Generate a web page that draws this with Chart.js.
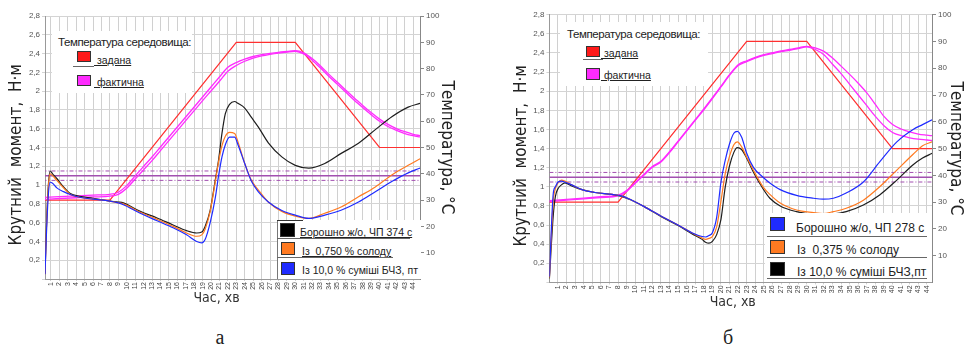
<!DOCTYPE html>
<html>
<head>
<meta charset="utf-8">
<script src="https://cdn.jsdelivr.net/npm/chart.js@4.4.1/dist/chart.umd.min.js"></script>
<style>
  body { margin: 0; background: #fff; }
  #wrap { position: relative; width: 966px; height: 349px; overflow: hidden; font-family: "Liberation Sans", Arial, sans-serif; color: #222; }
  canvas { position: absolute; top: 0; }
  .box { position: absolute; background: #fff; }
  .sq { position: absolute; box-sizing: border-box; border: 1px solid #333; }
  .t { position: absolute; white-space: nowrap; text-decoration: underline; line-height: 12px; }
  .nu { text-decoration: none; }
  .ln { position: absolute; height: 1px; background: #666; }
  .lbl { position: absolute; width: 40px; text-align: center; font: 20px "Liberation Serif", serif; }
</style>
</head>
<body>
<div id="wrap">
  <canvas id="chartA" width="483" height="320" style="left:0"></canvas>
  <canvas id="chartB" width="483" height="320" style="left:483px"></canvas>

  <!-- а: temperature legend -->
  <div class="box" style="left:52px;top:31px;width:140px;height:62px"></div>
  <div class="t nu" style="left:58px;top:36px;font-size:11.5px;letter-spacing:-0.4px">Температура середовища:</div>
  <div class="sq" style="left:77px;top:51px;width:14px;height:11px;background:#ff1a1a"></div>
  <div class="ln" style="left:73px;top:66px;width:21px"></div>
  <div class="t" style="left:94px;top:54px;font-size:10.5px">&nbsp;задана</div>
  <div class="sq" style="left:77px;top:75px;width:14px;height:11px;background:#ff2bff"></div>
  <div class="t" style="left:94px;top:76px;font-size:10.5px">&nbsp;фактична</div>

  <!-- а: samples legend -->
  <div class="box" style="left:277px;top:220px;width:143px;height:59px;border-left:1px solid #777"></div>
  <div class="ln" style="left:277px;top:220px;width:26px;background:#333"></div>
  <div class="sq" style="left:280px;top:223px;width:15px;height:14px;background:#000"></div>
  <div class="t" style="left:300px;top:226px;font-size:10.5px">Борошно ж/о, ЧП 374 с</div>
  <div class="ln" style="left:277px;top:238px;width:133px"></div>
  <div class="sq" style="left:281px;top:242px;width:14px;height:13px;background:#ff7a21"></div>
  <div class="t" style="left:302px;top:245px;font-size:10.5px">Із&nbsp; 0,750 % солоду</div>
  <div class="ln" style="left:277px;top:257px;width:116px"></div>
  <div class="sq" style="left:281px;top:262px;width:14px;height:13px;background:#1f2bff"></div>
  <div class="t nu" style="left:302px;top:264px;font-size:10.5px">Із 10,0 % суміші БЧЗ, пт</div>

  <!-- б: temperature legend -->
  <div class="box" style="left:560px;top:22px;width:148px;height:64px"></div>
  <div class="t nu" style="left:567px;top:28px;font-size:11.5px;letter-spacing:-0.4px">Температура середовища:</div>
  <div class="sq" style="left:586px;top:46px;width:14px;height:11px;background:#ff1a1a"></div>
  <div class="ln" style="left:583px;top:59px;width:20px"></div>
  <div class="t" style="left:601px;top:47px;font-size:10.5px">&nbsp;задана</div>
  <div class="sq" style="left:586px;top:68px;width:14px;height:12px;background:#ff2bff"></div>
  <div class="t" style="left:601px;top:69px;font-size:10.5px">&nbsp;фактична</div>

  <!-- б: samples legend -->
  <div class="box" style="left:765px;top:213px;width:167px;height:69px"></div>
  <div class="sq" style="left:770px;top:217px;width:15px;height:14px;background:#1f2bff"></div>
  <div class="t nu" style="left:796px;top:222px;font-size:12px">Борошно ж/о, ЧП 278 с</div>
  <div class="ln" style="left:767px;top:236px;width:160px"></div>
  <div class="sq" style="left:770px;top:240px;width:15px;height:14px;background:#ff7a21"></div>
  <div class="t nu" style="left:797px;top:244px;font-size:12px">Із&nbsp; 0,375 % солоду</div>
  <div class="ln" style="left:767px;top:257px;width:160px"></div>
  <div class="sq" style="left:770px;top:262px;width:15px;height:14px;background:#000"></div>
  <div class="t nu" style="left:797px;top:266px;font-size:12px">Із 10,0 % суміші БЧЗ,пт</div>
  <div class="ln" style="left:767px;top:278px;width:160px"></div>

  <div class="lbl" style="left:200px;top:326px">а</div>
  <div class="lbl" style="left:708px;top:326px">б</div>
</div>

<script>
// axis ticks
const MINUTES = Array.from({ length: 44 }, (_, i) => i + 1);
const TORQUE_GRID = Array.from({ length: 29 }, (_, i) => i / 10);
const TEMP_TICKS = [10, 20, 30, 40, 50, 60, 70, 80, 90, 100];

// set temperature programme (°C)
const SET_TIME = [0, 8, 23, 30, 40, 45];
const SET_TEMP = [30, 30, 90, 90, 50, 50];

// C1 target band, N·m
const BAND_LOW = 1.05;
const BAND_MID = 1.10;
const BAND_HIGH = 1.15;

// --- chart а ---
const A_TIME = [0.3, 0.5, 0.7, 0.9, 1.2, 1.7, 2.5, 3.3, 4.4, 6, 8, 9, 9.6, 11.6, 13.6, 15.5, 17.1, 18.3, 18.9, 19.3,
  19.9, 20.5, 20.9, 21.3, 21.7, 22.2, 22.8, 23.2, 24, 24.8, 25.6, 26.8, 28.4, 30, 31.6, 33.5, 35.5, 37.5, 39.5, 41.5, 43.4, 44.8];
const A_CONTROL = [0.06, 0.63, 1.0, 1.15, 1.12, 1.07, 0.98, 0.91, 0.88, 0.86, 0.83, 0.82, 0.81, 0.72, 0.65, 0.575, 0.515, 0.49, 0.5, 0.56,
  0.73, 1.05, 1.27, 1.55, 1.76, 1.86, 1.89, 1.87, 1.82, 1.72, 1.62, 1.45, 1.30, 1.21, 1.18, 1.23, 1.34, 1.445, 1.59, 1.73, 1.83, 1.87];
const A_MALT = [0.05, 0.6, 0.98, 1.12, 1.1, 1.05, 0.97, 0.9, 0.87, 0.85, 0.83, 0.81, 0.80, 0.71, 0.635, 0.56, 0.49, 0.455, 0.47, 0.53,
  0.72, 1.03, 1.25, 1.42, 1.52, 1.56, 1.55, 1.46, 1.23, 1.05, 0.95, 0.82, 0.72, 0.67, 0.645, 0.70, 0.77, 0.875, 0.98, 1.11, 1.21, 1.28];
const A_MIX = [0.05, 0.55, 0.9, 1.03, 1.02, 0.97, 0.93, 0.9, 0.87, 0.85, 0.83, 0.81, 0.79, 0.70, 0.62, 0.545, 0.47, 0.40, 0.385, 0.42,
  0.6, 0.86, 1.1, 1.3, 1.43, 1.51, 1.51, 1.43, 1.23, 1.04, 0.93, 0.82, 0.73, 0.68, 0.645, 0.68, 0.735, 0.82, 0.93, 1.04, 1.13, 1.18];
const A_TEMP_TIME = [0.3, 2, 4, 6, 8, 9, 10, 11, 12, 13, 14, 15, 16, 17, 18, 19, 20, 21, 22, 23, 24, 25, 26, 27, 28, 29, 30,
  31, 32, 33, 34, 35, 36, 37, 38, 39, 40, 41, 42, 43, 44, 44.8];
const A_TEMP_1 = [30.3, 30.6, 30.9, 31.2, 31.5, 32.2, 34.5, 38, 41.5, 45, 48.8, 52.6, 56.4, 60.2, 64, 67.8, 71.5, 75.2, 79, 81.2, 82.8,
  84, 84.8, 85.4, 85.9, 86.3, 86.6, 85.6, 83.2, 80.2, 77, 74, 71, 68, 65.2, 62.5, 60, 58, 56.5, 55.3, 54.5, 54];
const A_TEMP_2 = [31.0, 31.3, 31.6, 31.9, 32.2, 33, 35.5, 39.2, 42.8, 46.4, 50.2, 54, 57.8, 61.6, 65.4, 69.2, 73, 76.8, 80.5, 82.3, 83.6,
  84.6, 85.3, 85.8, 86.2, 86.5, 86.8, 86, 83.8, 81, 77.8, 74.8, 71.8, 68.8, 66, 63.3, 60.8, 58.8, 57.2, 56, 55, 54.5];

// --- chart б ---
const B_TIME = [0, 0.45, 0.7, 1.0, 1.4, 1.8, 2.6, 3.8, 5.3, 7.3, 8.4, 9.6, 11.1, 13.1, 15, 16.6, 17.8, 18.2, 18.6, 19,
  19.5, 20, 20.5, 21, 21.5, 21.9, 22.4, 23, 23.8, 24.9, 25.7, 26.9, 28.8, 30.8, 31.9, 33.1, 34.6, 36.6, 38.5, 40.5, 42.4, 43.5, 44.6];
const B_CONTROL = [0.06, 0.93, 1.0, 1.05, 1.06, 1.05, 1.02, 0.97, 0.94, 0.92, 0.905, 0.86, 0.79, 0.69, 0.60, 0.52, 0.48, 0.475, 0.49, 0.52,
  0.68, 1.05, 1.28, 1.45, 1.56, 1.58, 1.52, 1.35, 1.2, 1.1, 1.04, 0.97, 0.91, 0.88, 0.87, 0.88, 0.935, 1.05, 1.26, 1.47, 1.6, 1.65, 1.70];
const B_MALT = [0.05, 0.85, 0.98, 1.04, 1.07, 1.06, 1.02, 0.97, 0.94, 0.92, 0.905, 0.86, 0.79, 0.69, 0.60, 0.52, 0.465, 0.45, 0.46, 0.48,
  0.58, 0.85, 1.14, 1.32, 1.44, 1.47, 1.42, 1.31, 1.17, 1.0, 0.92, 0.83, 0.757, 0.73, 0.72, 0.74, 0.775, 0.86, 1.0, 1.175, 1.34, 1.43, 1.47];
const B_MIX = [0.04, 0.7, 0.9, 0.98, 1.02, 1.04, 1.01, 0.97, 0.94, 0.92, 0.90, 0.86, 0.79, 0.685, 0.595, 0.51, 0.45, 0.42, 0.41, 0.43,
  0.5, 0.66, 1.0, 1.22, 1.36, 1.41, 1.39, 1.3, 1.15, 0.98, 0.88, 0.80, 0.74, 0.71, 0.705, 0.715, 0.74, 0.81, 0.915, 1.07, 1.23, 1.3, 1.35];
const B_TEMP_TIME = [0, 2, 4, 6, 8, 9, 10, 11, 12, 13, 14, 15, 16, 17, 18, 19, 20, 21, 22, 23, 24, 25, 26, 27, 28, 29, 30,
  31, 32, 33, 34, 35, 36, 37, 38, 39, 40, 41, 42, 43, 44, 44.6];
const B_TEMP_1 = [30.2, 30.7, 31.2, 31.7, 32.3, 34, 37, 40, 43, 45, 48.5, 52.5, 56.5, 60.5, 64.5, 68.7, 73, 77.3, 81, 82.5, 83.8,
  84.8, 85.5, 86.2, 86.7, 87.3, 88, 87, 85, 81.5, 78, 74, 70, 66, 62, 58.5, 56, 54.8, 54, 53.5, 53.2, 53];
const B_TEMP_2 = [30.5, 31, 31.5, 32, 32.6, 34.3, 37.3, 40.3, 43.3, 45.3, 48.8, 52.8, 56.8, 60.8, 64.8, 69, 73.3, 77.6, 81.3, 82.8, 84.1,
  85.1, 85.8, 86.5, 87, 87.6, 88.2, 87.6, 86.3, 83.8, 80.8, 77.7, 74.4, 70.8, 66.5, 62, 59, 57.3, 56.2, 55.4, 55, 54.8];

const BLACK = '#1e1e1e', ORANGE = '#ff7a21', BLUE = '#1f2bff', RED = '#ff3030', MAGENTA = '#ff2bff', PURPLE = '#a24fb0';
const NARROW = "'Liberation Sans Narrow', 'DejaVu Sans Condensed', sans-serif";
const NBSP = '\u00a0';

const pts = (xs, ys) => xs.map((x, i) => ({ x, y: ys[i] }));
const flat = v => [{ x: 0, y: v }, { x: 45, y: v }];
const comma = v => String(Math.round(v * 10) / 10).replace('.', ',');

function line(data, color, axis, extra) {
  return Object.assign({ data, borderColor: color, yAxisID: axis, borderWidth: 1.2, pointRadius: 0, fill: false }, extra || {});
}

function drawChart(id, p) {
  new Chart(document.getElementById(id), {
    type: 'line',
    data: {
      datasets: [
        ...p.torque.map(c => line(pts(p.time, c.values), c.color, 'y', { cubicInterpolationMode: 'monotone' })),
        line(pts(p.tempTime, p.temp1), MAGENTA, 'y2', { borderWidth: 1.3, cubicInterpolationMode: 'monotone' }),
        line(pts(p.tempTime, p.temp2), MAGENTA, 'y2', { borderWidth: 1.3, cubicInterpolationMode: 'monotone' }),
        line(pts(SET_TIME, SET_TEMP), RED, 'y2'),
        line(flat(BAND_MID), PURPLE, 'y', { borderWidth: 1.4 }),
        line(flat(BAND_LOW), PURPLE, 'y', { borderWidth: 1, borderDash: [4, 2, 1, 2] }),
        line(flat(BAND_HIGH), PURPLE, 'y', { borderWidth: 1, borderDash: [4, 2, 1, 2] })
      ]
    },
    options: {
      responsive: false,
      animation: false,
      layout: { autoPadding: false, padding: { top: p.top } },
      plugins: { legend: { display: false }, tooltip: { enabled: false } },
      scales: {
        x: {
          type: 'linear', min: p.xMin, max: p.xMax,
          afterFit: s => { s.height = p.xH; },
          afterBuildTicks: s => { s.ticks = MINUTES.map(v => ({ value: v })); },
          ticks: { autoSkip: false, minRotation: 90, maxRotation: 90, padding: 1, color: '#444', font: { size: 7 } },
          grid: { color: '#d0d0d0', tickLength: 2 },
          border: { color: '#999' },
          title: { display: true, text: 'Час, хв' + NBSP.repeat(p.xShift), color: '#333', font: { family: NARROW, size: 14, lineHeight: 1 }, padding: { top: 0, bottom: p.xTitlePad } }
        },
        y: {
          position: 'left', min: 0, max: 2.8,
          afterFit: s => { s.width = p.yW; },
          afterBuildTicks: s => { s.ticks = TORQUE_GRID.map(v => ({ value: v })); },
          ticks: { padding: 2, color: '#555', font: { size: 8 }, callback: v => (Math.round(v * 10) % 2 === 0 && v > 0) ? comma(v) : '' },
          grid: { color: '#d4d4d4', tickLength: 3 },
          border: { color: '#999' },
          title: { display: true, text: 'Крутний  момент,  Н·м' + NBSP.repeat(3), color: '#222', font: { family: NARROW, size: 17, lineHeight: 1 }, padding: { top: p.yTitlePad, bottom: 0 } }
        },
        y2: {
          position: 'right', min: 0, max: 100,
          afterFit: s => { s.width = p.y2W; },
          afterBuildTicks: s => { s.ticks = TEMP_TICKS.map(v => ({ value: v })); },
          ticks: { padding: 2, color: '#555', font: { size: 8 } },
          grid: { drawOnChartArea: false, color: '#888', tickLength: 4 },
          border: { color: '#888' },
          title: { display: true, text: 'Температура, °С', color: '#222', font: { family: NARROW, size: 17, lineHeight: 1 }, padding: { top: p.y2TitlePad, bottom: 0 } }
        }
      }
    }
  });
}

drawChart('chartA', {
  top: 16, xMin: 0.3, xMax: 44.8, xH: 41, yW: 45, y2W: 63,
  xTitlePad: 15, yTitlePad: 8, y2TitlePad: 28, xShift: 8,
  time: A_TIME,
  torque: [
    { values: A_MIX, color: BLUE },
    { values: A_MALT, color: ORANGE },
    { values: A_CONTROL, color: BLACK }
  ],
  tempTime: A_TEMP_TIME, temp1: A_TEMP_1, temp2: A_TEMP_2
});

drawChart('chartB', {
  top: 14.7, xMin: 0, xMax: 44.6, xH: 37.6, yW: 66.4, y2W: 34,
  xTitlePad: 11, yTitlePad: 30, y2TitlePad: 2, xShift: 4,
  time: B_TIME,
  torque: [
    { values: B_CONTROL, color: BLUE },
    { values: B_MALT, color: ORANGE },
    { values: B_MIX, color: BLACK }
  ],
  tempTime: B_TEMP_TIME, temp1: B_TEMP_1, temp2: B_TEMP_2
});
</script>
</body>
</html>
